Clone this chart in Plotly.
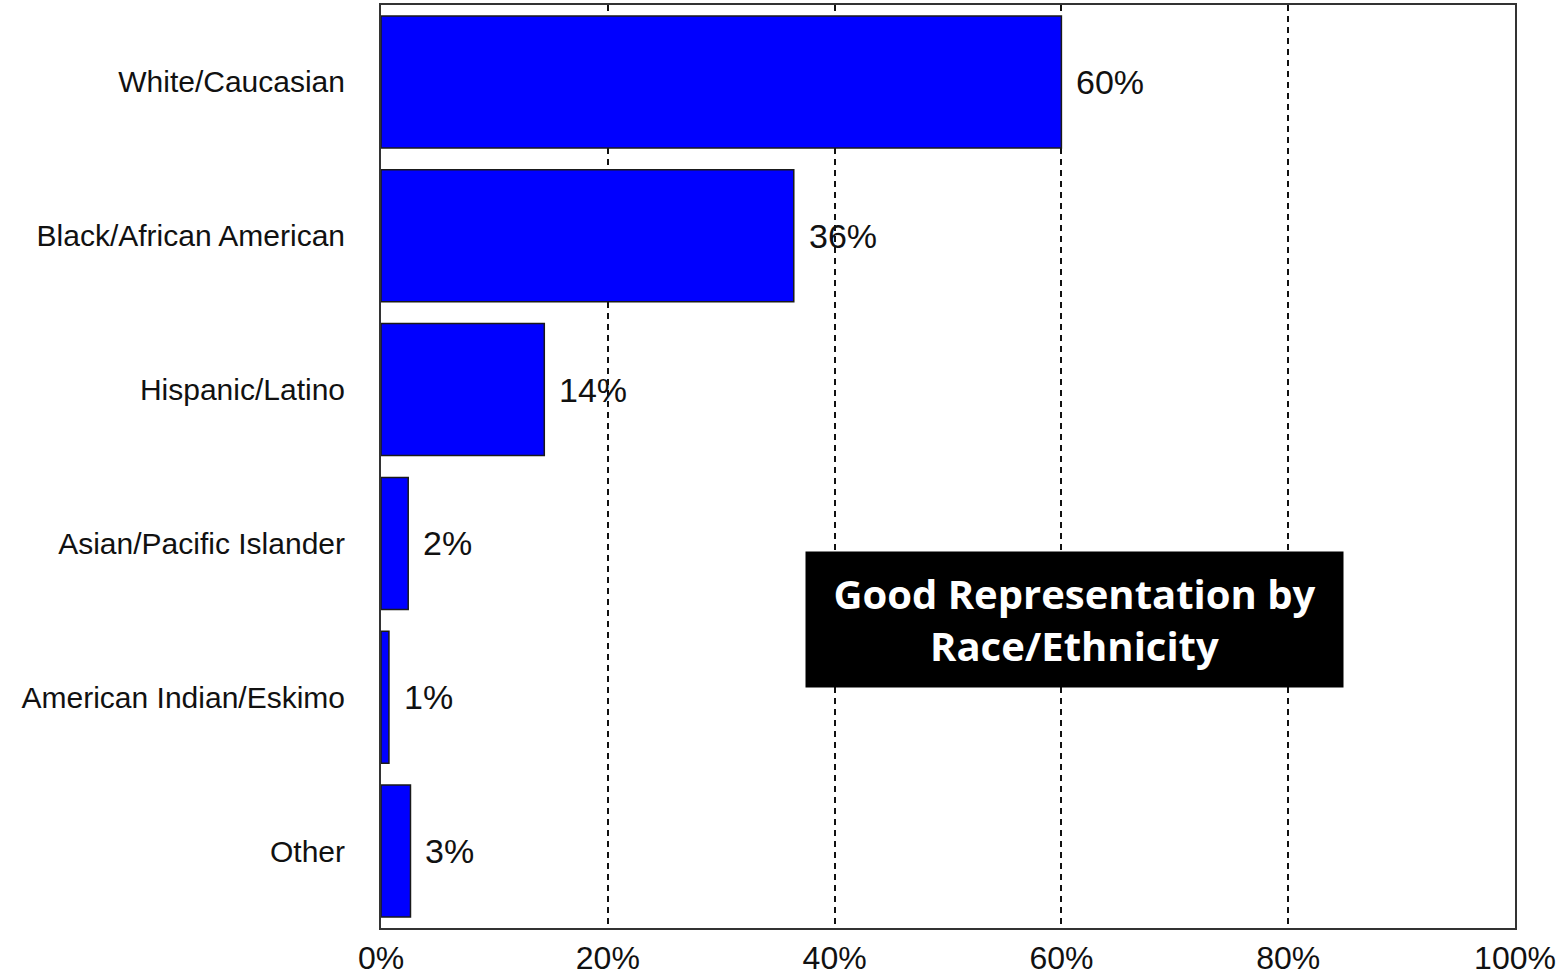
import plotly.graph_objects as go

# Share of participants by race/ethnicity (percent)
categories = [
    "White/Caucasian",
    "Black/African American",
    "Hispanic/Latino",
    "Asian/Pacific Islander",
    "American Indian/Eskimo",
    "Other",
]
percent = [60.0, 36.4, 14.4, 2.4, 0.7, 2.6]
tick_values = [0, 20, 40, 60, 80, 100]
tick_labels = ["0%", "20%", "40%", "60%", "80%", "100%"]
callout = "Good Representation by<br>Race/Ethnicity"

value_labels = [f"{round(v)}%" for v in percent]

fig = go.Figure()
fig.add_trace(go.Bar(
    x=percent,
    y=categories,
    orientation="h",
    marker=dict(color="#0000FF", line=dict(color="#1a1a1a", width=1.5)),
    hoverinfo="x+y",
    showlegend=False,
))

# value labels just to the right of each bar end
for cat, v, lab in zip(categories, percent, value_labels):
    fig.add_annotation(
        x=v, y=cat, xref="x", yref="y",
        text=lab, showarrow=False,
        xanchor="left", yanchor="middle", xshift=13,
        font=dict(family="Liberation Sans, Arial, sans-serif", size=34, color="#111111"),
    )

# black call-out box
fig.add_annotation(
    x=0.6115, y=0.334, xref="paper", yref="paper",
    text=callout, showarrow=False,
    xanchor="center", yanchor="middle",
    align="center",
    width=537, height=135, borderpad=0,
    bgcolor="#000000",
    font=dict(family="Open Sans, sans-serif", size=40, color="#FFFFFF", weight="bold"),
)

fig.update_layout(
    width=1565, height=979,
    margin=dict(l=381, r=50, t=5, b=51),
    paper_bgcolor="white",
    plot_bgcolor="white",
    bargap=0.142,
    font=dict(family="Liberation Sans, Arial, sans-serif", color="#111111"),
)

fig.update_xaxes(
    range=[0, 100],
    tickvals=tick_values,
    ticktext=tick_labels,
    tickfont=dict(size=32, color="#111111"),
    showgrid=True,
    gridcolor="#111111",
    gridwidth=1.5,
    griddash="6px,5px",
    zeroline=False,
    showline=True, linecolor="#333333", linewidth=2, mirror=True,
    ticks="",
    ticklabelstandoff=1,
    automargin=False,
    fixedrange=True,
)

fig.update_yaxes(
    categoryorder="array",
    categoryarray=categories,
    autorange="reversed",
    tickfont=dict(size=30, color="#111111"),
    showgrid=False,
    zeroline=False,
    showline=True, linecolor="#333333", linewidth=2, mirror=True,
    ticks="",
    ticklabelstandoff=28,
    automargin=False,
    fixedrange=True,
)

fig.write_html("out.html")
